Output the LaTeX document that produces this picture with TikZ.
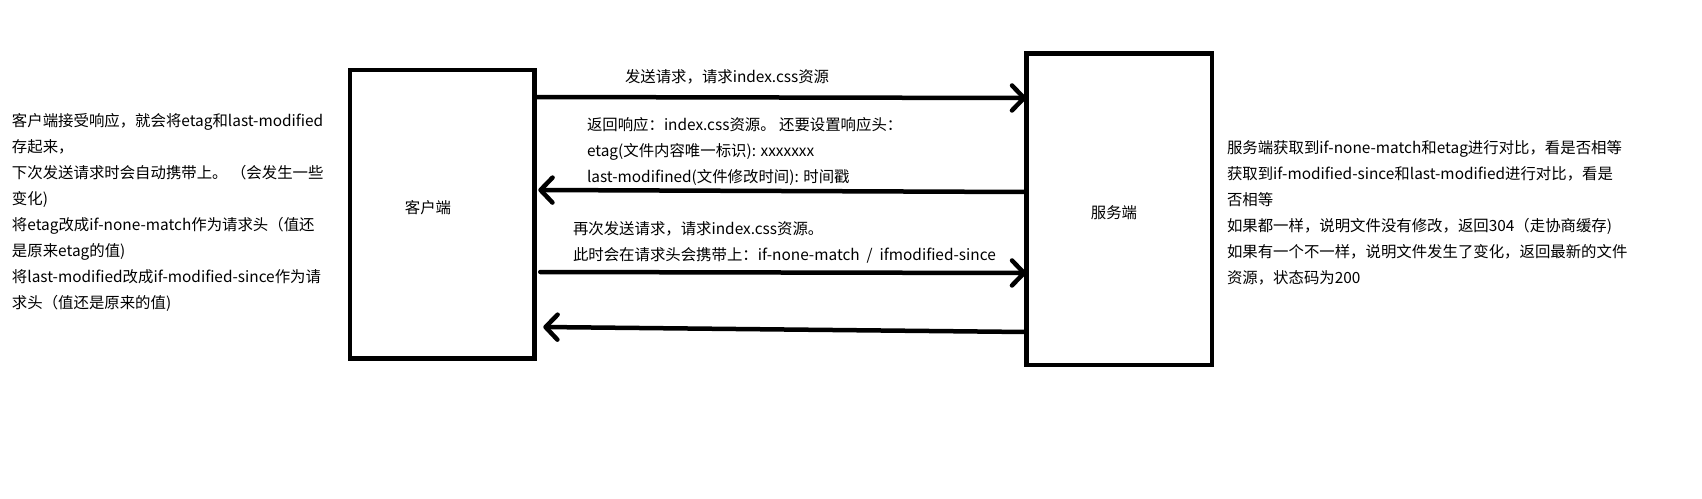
\documentclass[tikz,border=0pt]{standalone}
\usepackage{fontspec}
\setmainfont{Noto Sans CJK SC}
\usetikzlibrary{arrows.meta,calc}
\begin{document}
\begin{tikzpicture}[x=1pt,y=-1pt,
  txt/.style={inner sep=0pt,outer sep=0pt,align=left,anchor=base west,font=\fontsize{15.4}{26}\selectfont},
  boxnode/.style={draw,line width=4.5pt,inner sep=0pt,outer sep=0pt},
  arr/.style={line width=4.5pt,line cap=round,-{Straight Barb[length=12pt,width=25pt,round]}}]
\useasboundingbox (0,0) rectangle (1702,498);
\node[boxnode,minimum width=184.5pt,minimum height=288.5pt] (client) at (442,214) {};
\node[boxnode,minimum width=185.5pt,minimum height=311.5pt] (server) at (1119,209) {};
\node[txt,anchor=center] (clientlbl) at (428,208) {客户端};
\node[txt,anchor=center] (serverlbl) at (1114,213) {服务端};
% multi-line nodes: base anchor = baseline of last line
\node[txt] (lefttxt) at (12,308) {客户端接受响应，就会将etag和last-modified\\存起来，\\下次发送请求时会自动携带上。 （会发生一些\\变化)\\将etag改成if-none-match作为请求头（值还\\是原来etag的值)\\将last-modified改成if-modified-since作为请\\求头（值还是原来的值)};
\node[txt] (righttxt) at (1227,283.5) {服务端获取到if-none-match和etag进行对比，看是否相等\\获取到if-modified-since和last-modified进行对比，看是\\否相等\\如果都一样，说明文件没有修改，返回304（走协商缓存)\\如果有一个不一样，说明文件发生了变化，返回最新的文件\\资源，状态码为200};
\node[txt] (req1) at (625,82) {发送请求，请求index.css资源};
\node[txt] (resp1) at (587,182) {返回响应：index.css资源。 还要设置响应头：\\etag(文件内容唯一标识): xxxxxxx\\last-modifined(文件修改时间): 时间戳};
\node[txt] (req2) at (573,260) {再次发送请求，请求index.css资源。\\此时会在请求头会携带上：if-none-match ~/~ ifmodified-since};
\draw[arr] (client.east |- 0,97) -- (server.west |- 0,98);
\draw[arr] (server.west |- 0,192) -- ($(client.east |- 0,190)+(4,0)$);
\draw[arr] ($(client.east |- 0,272)+(6,0)$) -- (server.west |- 0,273);
\draw[arr] (server.west |- 0,332) -- ($(client.east |- 0,327)+(9,0)$);
\end{tikzpicture}
\end{document}
